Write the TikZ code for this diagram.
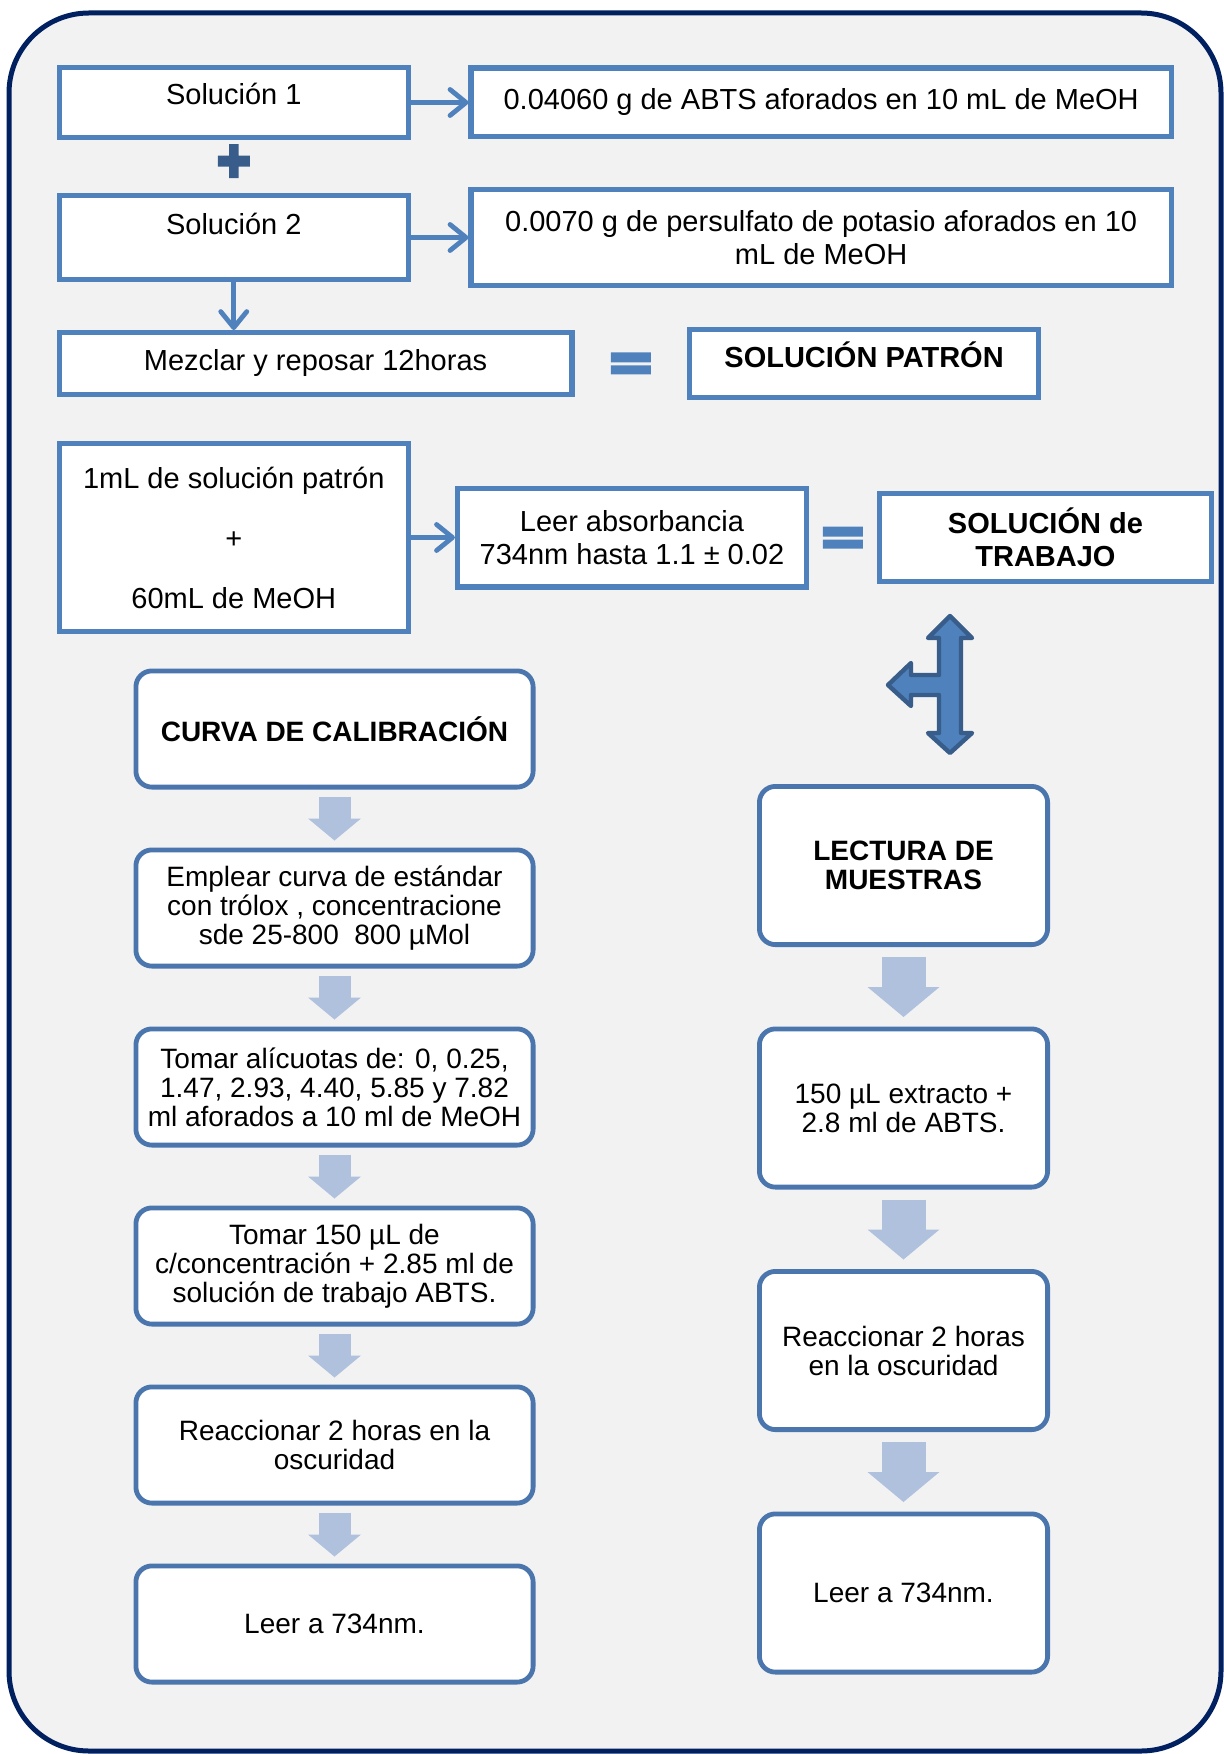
\documentclass[tikz,border=0pt]{standalone}
\usepackage{fontspec}
\setmainfont{Liberation Sans}
\usetikzlibrary{positioning,arrows.meta,calc}

\definecolor{frameblue}{RGB}{0,32,96}
\definecolor{paneback}{RGB}{242,242,242}
\definecolor{boxblue}{RGB}{79,129,189}
\definecolor{stepblue}{RGB}{74,118,173}
\definecolor{paleblue}{RGB}{176,193,222}
\definecolor{darkblue}{RGB}{56,93,138}

\tikzset{
  rect/.style={draw=boxblue, line width=2.6pt, fill=white, align=center,
    inner sep=0pt, font=\fontsize{14.5}{16.5}\selectfont},
  recthead/.style={rect, font=\fontsize{14.5}{16.5}\selectfont\bfseries},
  stepbox/.style={draw=stepblue, line width=2.4pt, fill=white, rounded corners=8pt,
    align=center, inner sep=0pt, minimum width=198.6pt, minimum height=58.1pt,
    font=\fontsize{14}{14.5}\selectfont},
  stephead/.style={stepbox, font=\fontsize{14}{14.5}\selectfont\bfseries},
  sidebox/.style={stepbox, minimum width=144.1pt, minimum height=79.1pt},
  sidehead/.style={sidebox, font=\fontsize{14}{14.5}\selectfont\bfseries},
  link/.style={draw=boxblue, line width=2.4pt,
    -{Straight Barb[length=8pt,width=13pt,round]}},
  flow/.style={paleblue, draw, line width=16pt, shorten <=3.5pt, shorten >=3.5pt,
    -{Triangle[width=26.5pt,length=11pt,line width=0pt,fill=paleblue]}},
  bigflow/.style={flow, line width=22pt, shorten <=5pt, shorten >=4.75pt,
    -{Triangle[width=36pt,length=15pt,line width=0pt,fill=paleblue]}},
  eqsign/.pic={\fill[boxblue] (-20,-11) rectangle (20,-1) (-20,2) rectangle (20,11);},
  plussign/.pic={\fill[darkblue] (-16,-5.5) rectangle (16,5.5) (-4.75,-17) rectangle (4.75,17);},
}

\begin{document}
\begin{tikzpicture}[x=0.5pt, y=-0.5pt, node distance=89.5pt]
  \useasboundingbox (0,0) rectangle (1223,1754);
  \draw[frameblue, fill=paneback, line width=2.5pt, rounded corners=40pt]
    (9,13) rectangle (1221,1751);

  \node[rect, minimum width=174.6pt, minimum height=34.9pt, text depth=9pt] (sol1)
    at (233.75,102.5) {Solución 1};
  \node[rect, minimum width=350.1pt, minimum height=34.4pt, right=28.75pt of sol1] (abts)
    {0.04060 g de ABTS aforados en 10 mL de MeOH};
  \node[rect, minimum width=174.6pt, minimum height=41.9pt, text depth=14pt,
    below=26.5pt of sol1] (sol2) {Solución 2};
  \node[rect, minimum width=350.1pt, minimum height=47.9pt, right=28.75pt of sol2] (persul)
    {0.0070 g de persulfato de potasio aforados en 10\\mL de MeOH};
  \node[rect, minimum width=256.4pt, minimum height=30.9pt,
    below=24pt of sol2.south west, anchor=north west] (mezcla) {Mezclar y reposar 12horas};
  \node[recthead, minimum width=174.4pt, minimum height=33.9pt, text depth=9pt,
    right=56.25pt of mezcla] (patron) {SOLUCIÓN PATRÓN};
  \node[rect, minimum width=174.6pt, minimum height=93.9pt,
    below=22pt of mezcla.south west, anchor=north west] (mix)
    {1mL de solución patrón\\[13.5pt]+\\[13.5pt]60mL de MeOH};
  \node[rect, minimum width=174.4pt, minimum height=49.4pt, right=22pt of mix] (leer)
    {Leer absorbancia\\734nm hasta 1.1 ± 0.02};
  \node[recthead, minimum width=165.9pt, minimum height=43.9pt, right=34pt of leer] (trabajo)
    {SOLUCIÓN de\\TRABAJO};

  \pic at ($(sol1.south)!.4!(sol2.north)$) {plussign};
  \pic at ($(mezcla.east)!.5!(patron.west)$) {eqsign};
  \pic at ($(leer.east)!.5!(trabajo.west)$) {eqsign};

  \path[link]
    (sol1) edge (abts)
    (sol2) edge (persul)
    (mix) edge (leer);
  \draw[link] (sol2.south) -- (sol2.south |- mezcla.north);

  \draw[darkblue, fill=boxblue, line width=2.2pt, line join=round]
    (950,616) -- (972,638) -- (961,638) -- (961,733) -- (972,733) -- (950,753)
    -- (928,733) -- (939,733) -- (939,695) -- (911,695) -- (911,706) -- (888,685)
    -- (911,663) -- (911,675) -- (939,675) -- (939,638) -- (928,638) -- cycle;

  \node[stephead] (curva) at (334.5,729) {CURVA DE CALIBRACIÓN};
  \node[stepbox, below of=curva] (emplear)
    {Emplear curva de estándar\\con trólox , concentracione\\sde 25-800\ \ 800 µMol};
  \node[stepbox, below of=emplear] (alicuotas)
    {Tomar alícuotas de: 0, 0.25,\\1.47, 2.93, 4.40, 5.85 y 7.82\\ml aforados a 10 ml de MeOH};
  \node[stepbox, below of=alicuotas] (tomar)
    {Tomar 150 µL de\\c/concentración + 2.85 ml de\\solución de trabajo ABTS.};
  \node[stepbox, below of=tomar] (reacc) {Reaccionar 2 horas en la\\oscuridad};
  \node[stepbox, below of=reacc] (leerL) {Leer a 734nm.};

  \node[sidehead] (lectura) at (903.5,865.5) {LECTURA DE\\MUESTRAS};
  \node[sidebox, node distance=121.25pt, below of=lectura] (extracto)
    {150 µL extracto +\\2.8 ml de ABTS.};
  \node[sidebox, node distance=121.25pt, below of=extracto] (reaccR)
    {Reaccionar 2 horas\\en la oscuridad};
  \node[sidebox, node distance=121.25pt, below of=reaccR] (leerR) {Leer a 734nm.};

  \path[flow]
    (curva) edge (emplear)
    (emplear) edge (alicuotas)
    (alicuotas) edge (tomar)
    (tomar) edge (reacc)
    (reacc) edge (leerL);
  \path[bigflow]
    (lectura) edge (extracto)
    (extracto) edge (reaccR)
    (reaccR) edge (leerR);
\end{tikzpicture}
\end{document}
